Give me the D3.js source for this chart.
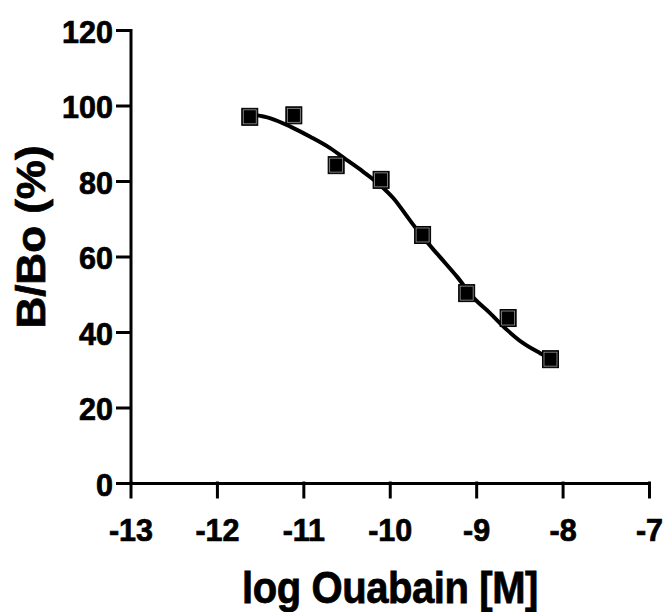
<!DOCTYPE html>
<html>
<head>
<meta charset="utf-8">
<script src="https://cdn.jsdelivr.net/npm/d3@7"></script>
<style>
  body { margin: 0; background: #fff; }
  svg text { font-family: "Liberation Sans", Arial, sans-serif; font-weight: bold; fill: #000; stroke: #000; stroke-width: 0.7px; }
</style>
</head>
<body>
<svg id="chart" width="667" height="612"></svg>
<script>
// measured points (log M, % binding)
var logDose = [-11.62, -11.11, -10.62, -10.1, -9.62, -9.11, -8.63, -8.14];
var binding = [97.0, 97.4, 84.2, 80.3, 65.7, 50.3, 43.7, 32.8];

// fitted curve
var fitX = [-11.62, -11.38, -11.15, -10.92, -10.69, -10.5, -10.31, -10.11, -9.96, -9.77, -9.62, -9.42, -9.22, -9.04, -8.84, -8.64, -8.46, -8.26, -8.11];
var fitY = [97.7, 96.6, 94.4, 91.7, 88.7, 85.6, 82.5, 78.9, 75.5, 69.7, 65.2, 59.9, 54.6, 49.3, 45.0, 40.5, 37.1, 34.4, 32.6];

var xTicks = [-13, -12, -11, -10, -9, -8, -7];
var yTicks = [0, 20, 40, 60, 80, 100, 120];

var svg = d3.select("#chart");

var x = d3.scaleLinear().domain([-13, -7]).range([130.5, 649]);
var y = d3.scaleLinear().domain([0, 120]).range([483, 30]);

// axes
svg.append("g")
    .attr("class", "x-axis")
    .attr("transform", "translate(0," + y(0) + ")")
    .call(d3.axisBottom(x)
      .tickValues(xTicks)
      .tickFormat(function(d){ return String(d) })
      .tickSize(14)
      .tickSizeOuter(0));

svg.append("g")
    .attr("class", "y-axis")
    .attr("transform", "translate(" + x(-13) + ",0)")
    .call(d3.axisLeft(y)
      .tickValues(yTicks)
      .tickFormat(function(d){ return String(d) })
      .tickSize(13)
      .tickSizeOuter(0));

svg.selectAll(".domain, .tick line")
    .attr("stroke", "#000")
    .attr("stroke-width", 3)
    .attr("stroke-linecap", "square");

// the original is a bit taller than wide, so stretch the labels
svg.selectAll(".x-axis .tick text")
    .attr("y", 0).attr("dy", 0)
    .attr("transform", "translate(0,58) scale(1,1.05)")
    .style("font-size", "30.5px");

svg.selectAll(".y-axis .tick text")
    .attr("x", 0).attr("dy", 0)
    .attr("transform", "translate(-17.5,12) scale(1,1.05)")
    .style("font-size", "30.5px");

// axis titles
svg.append("text")
    .attr("transform", "translate(390,603) scale(1,1.1)")
    .attr("text-anchor", "middle")
    .style("font-size", "40px")
    .style("letter-spacing", "-0.4px")
    .text("log Ouabain [M]");

svg.append("text")
    .attr("transform", "translate(45,237) rotate(-90) scale(1.1,1)")
    .attr("text-anchor", "middle")
    .style("font-size", "40px")
    .text("B/Bo (%)");

// fit line
var line = d3.line()
    .x(function(d){ return x(d[0]) })
    .y(function(d){ return y(d[1]) })
    .curve(d3.curveMonotoneX);

svg.append("path")
    .datum(d3.zip(fitX, fitY))
    .attr("d", line)
    .attr("fill", "none")
    .attr("stroke", "#000")
    .attr("stroke-width", 4)
    .attr("stroke-linejoin", "round");

// square markers
var pts = svg.append("g")
  .selectAll("g")
  .data(d3.zip(logDose, binding))
  .enter()
  .append("g")
    .attr("transform", function(d){ return "translate(" + x(d[0]) + "," + y(d[1]) + ")" });

pts.append("rect")
    .attr("x", -8).attr("y", -8.5)
    .attr("width", 16).attr("height", 17)
    .attr("fill", "#000")
    .attr("stroke", "#000")
    .attr("stroke-width", 1);

pts.append("rect")
    .attr("x", -6.5).attr("y", -7)
    .attr("width", 13).attr("height", 14)
    .attr("fill", "none")
    .attr("stroke", "#9a9a9a")
    .attr("stroke-width", 0.8);
</script>
</body>
</html>
